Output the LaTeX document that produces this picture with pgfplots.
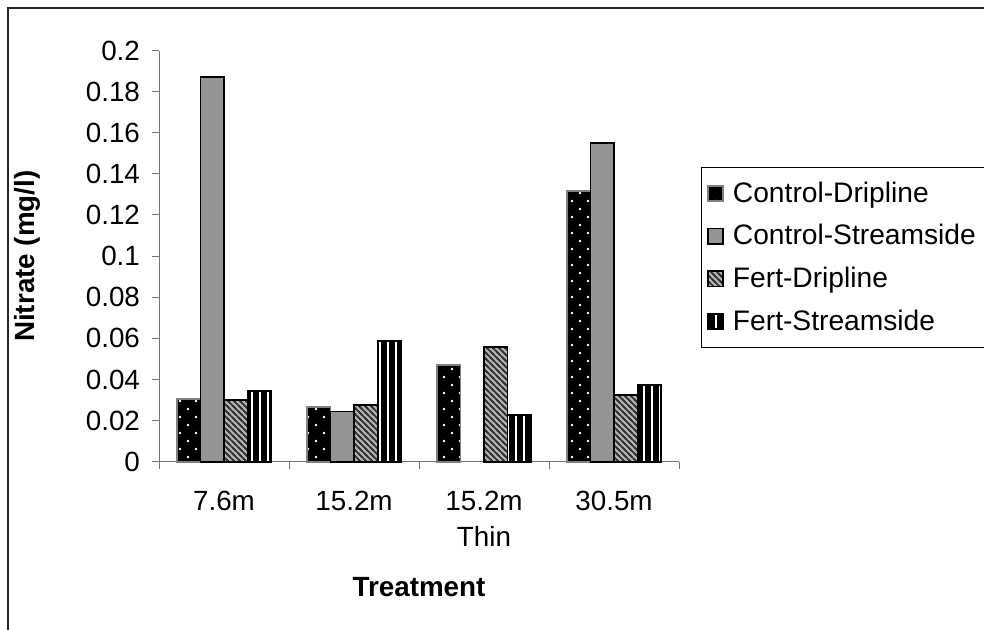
\documentclass[border=0pt]{standalone}
\usepackage{fontspec}
\setmainfont{Liberation Sans}
\usepackage{pgfplots}
\pgfplotsset{compat=1.18}
\usetikzlibrary{patterns}

\pgfdeclarepatternformonly{sparsedots}{\pgfqpoint{-1pt}{-1pt}}{\pgfqpoint{9pt}{9pt}}{\pgfqpoint{8pt}{8pt}}{%
  \pgfpathcircle{\pgfqpoint{2pt}{2pt}}{0.65pt}%
  \pgfpathcircle{\pgfqpoint{6pt}{6pt}}{0.65pt}%
  \pgfusepath{fill}}
\pgfdeclarepatternformonly{vstripes}{\pgfqpoint{-1pt}{-1pt}}{\pgfqpoint{5pt}{5pt}}{\pgfqpoint{4pt}{4pt}}{%
  \pgfsetlinewidth{0.8pt}%
  \pgfpathmoveto{\pgfqpoint{2pt}{-0.5pt}}\pgfpathlineto{\pgfqpoint{2pt}{4.5pt}}%
  \pgfusepath{stroke}}
\pgfdeclarepatternformonly{nwstripes}{\pgfqpoint{-1pt}{-1pt}}{\pgfqpoint{4pt}{4pt}}{\pgfqpoint{3pt}{3pt}}{%
  \pgfsetlinewidth{0.8pt}%
  \pgfpathmoveto{\pgfqpoint{0pt}{3pt}}\pgfpathlineto{\pgfqpoint{3pt}{0pt}}%
  \pgfpathmoveto{\pgfqpoint{-1pt}{1pt}}\pgfpathlineto{\pgfqpoint{1pt}{-1pt}}%
  \pgfpathmoveto{\pgfqpoint{2pt}{4pt}}\pgfpathlineto{\pgfqpoint{4pt}{2pt}}%
  \pgfusepath{stroke}}

\newcommand{\chartfont}{\fontsize{13.9pt}{18pt}\selectfont}
\newcommand{\legfont}{\fontsize{14.1pt}{16.5pt}\selectfont}

\begin{document}
\begin{tikzpicture}
\begin{axis}[
  at={(79.5pt,83.65pt)}, anchor=south west,
  scale only axis,
  width=260pt, height=205.6pt,
  xmin=-0.5, xmax=3.5,
  ymin=0, ymax=0.2,
  axis x line=bottom, axis y line=left,
  axis line style={-, draw=black!55, line width=0.5pt},
  tick style={draw=black!55, line width=0.5pt},
  tick align=outside,
  xtick={0,1,2,3},
  xticklabels={7.6m,15.2m,{15.2m\\Thin},30.5m},
  major x tick style={draw=none},
  minor xtick={-0.5,0.5,1.5,2.5,3.5},
  minor tick length=3.5pt,
  major tick length=3.5pt,
  ytick={0,0.02,0.04,0.06,0.08,0.1,0.12,0.14,0.16,0.18,0.2},
  scaled y ticks=false,
  yticklabel style={/pgf/number format/fixed, /pgf/number format/precision=2, font=\chartfont, xshift=-2.5pt},
  /pgf/number format/assume math mode=true,
  xticklabel style={align=center, font=\chartfont, yshift=-7.5pt},
  xlabel={\textbf{Treatment}},
  ylabel={\textbf{Nitrate (mg/l)}},
  label style={font=\chartfont},
  x label style={at={(axis description cs:0.5,-0.305)}, anchor=center},
  y label style={at={(axis description cs:-0.254,0.5)}, anchor=center, rotate=0},
  ybar=0pt, bar width=11.75pt,
  legend style={at={(1.042,0.716)}, anchor=north west, draw=black, line width=0.5pt,
    font=\legfont, row sep=5.6pt, inner xsep=3pt, inner ysep=5pt, cells={anchor=west}},
  legend image code/.code={\draw[#1] (0pt,-3.8pt) rectangle (7.5pt,3.8pt); \path (10pt,0pt);},
  clip=false,
]
\addplot[fill=black, draw=black!50, line width=0.8pt, postaction={pattern=sparsedots, pattern color=white}]
  coordinates {(0,0.0305) (1,0.0266) (2,0.0469) (3,0.1317)};
\addlegendentry{Control-Dripline}
\addplot[fill=black!42, draw=black, line width=0.8pt]
  coordinates {(0,0.1872) (1,0.0245) (3,0.1550)};
\addlegendentry{Control-Streamside}
\addplot[fill=black!30, draw=black, line width=0.8pt, postaction={pattern=nwstripes, pattern color=black!80}]
  coordinates {(0,0.0300) (1,0.0276) (2,0.0558) (3,0.0325)};
\addlegendentry{Fert-Dripline}
\addplot[fill=black, draw=black, line width=0.8pt, postaction={pattern=vstripes, pattern color=white}]
  coordinates {(0,0.0344) (1,0.0587) (2,0.0226) (3,0.0373)};
\addlegendentry{Fert-Streamside}
\end{axis}
\draw[line width=0.8pt, black!85] (4pt,-10pt) rectangle (500pt,310.5pt);
\pgfresetboundingbox
\useasboundingbox (0,0) rectangle (492pt,314.5pt);
\end{tikzpicture}
\end{document}
